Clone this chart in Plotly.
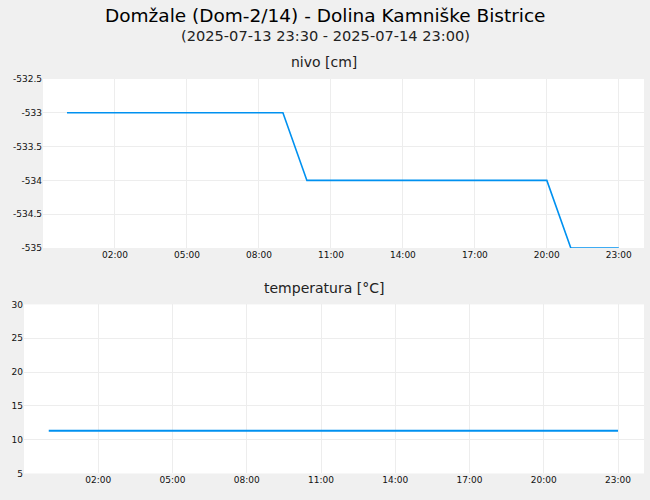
import plotly.graph_objects as go

times = ["2025-07-14 %02d:00" % h for h in range(24)]
nivo = [-533.0] * 10 + [-534.0] * 11 + [-535.0] * 3
temperatura = [11.3] * 24

nivo_ticks = [-535, -534.5, -534, -533.5, -533, -532.5]
nivo_ticktext = ["-535", "-534.5", "-534", "-533.5", "-533", "-532.5"]
temp_ticks = [5, 10, 15, 20, 25, 30]
temp_ticktext = ["5", "10", "15", "20", "25", "30"]
x_ticks = ["2025-07-14 %02d:00" % h for h in (2, 5, 8, 11, 14, 17, 20, 23)]
x_ticktext = ["02:00", "05:00", "08:00", "11:00", "14:00", "17:00", "20:00", "23:00"]
x_range = ["2025-07-13 23:00", "2025-07-15 00:03"]

title = "Domžale (Dom-2/14) - Dolina Kamniške Bistrice"
subtitle = "(2025-07-13 23:30 - 2025-07-14 23:00)"

W, H = 650, 500
FONT = "DejaVu Sans"
LINE = "rgb(0,145,240)"
GRID = "#ededed"

fig = go.Figure()
fig.add_trace(go.Scatter(x=times, y=nivo, mode="lines", line=dict(color=LINE, width=1.6),
                         xaxis="x", yaxis="y", showlegend=False))
fig.add_trace(go.Scatter(x=times, y=temperatura, mode="lines", line=dict(color=LINE, width=2),
                         xaxis="x2", yaxis="y2", showlegend=False))

def px(x):
    return x / W

def py(y):
    return 1 - y / H

axis_common = dict(showgrid=True, gridcolor=GRID, gridwidth=1, zeroline=False, showline=False,
                   ticks="", tickfont=dict(family=FONT, size=9, color="#111"))

fig.update_layout(
    width=W, height=H,
    margin=dict(l=0, r=0, t=0, b=0),
    paper_bgcolor="#f0f0f0", plot_bgcolor="white",
    font=dict(family=FONT),
    xaxis=dict(domain=[px(43), px(644)], anchor="y", type="date", range=x_range,
               tickmode="array", tickvals=x_ticks, ticktext=x_ticktext, **axis_common),
    yaxis=dict(domain=[py(248), py(75.5)], anchor="x", range=[-535, -532.5],
               tickmode="array", tickvals=nivo_ticks, ticktext=nivo_ticktext, **axis_common),
    xaxis2=dict(domain=[px(24), px(644)], anchor="y2", type="date", range=x_range,
                tickmode="array", tickvals=x_ticks, ticktext=x_ticktext, **axis_common),
    yaxis2=dict(domain=[py(478), py(305.5)], anchor="x2", range=[5, 30],
                tickmode="array", tickvals=temp_ticks, ticktext=temp_ticktext, **axis_common),
)

ann = [
    dict(text=title, x=0.5, y=py(11), size=18.5, color="#000"),
    dict(text=subtitle, x=0.5, y=py(31), size=14.6, color="#222"),
    dict(text="nivo [cm]", x=px(324), y=py(58), size=14, color="#222"),
    dict(text="temperatura [°C]", x=px(324), y=py(289), size=14, color="#222"),
]
for a in ann:
    fig.add_annotation(text=a["text"], x=a["x"], y=a["y"], xref="paper", yref="paper",
                       xanchor="center", yanchor="middle", showarrow=False,
                       font=dict(family=FONT, size=a["size"], color=a["color"]))

fig.write_html("out.html", post_script="document.body.style.margin='0';",
               config={"displayModeBar": False})
